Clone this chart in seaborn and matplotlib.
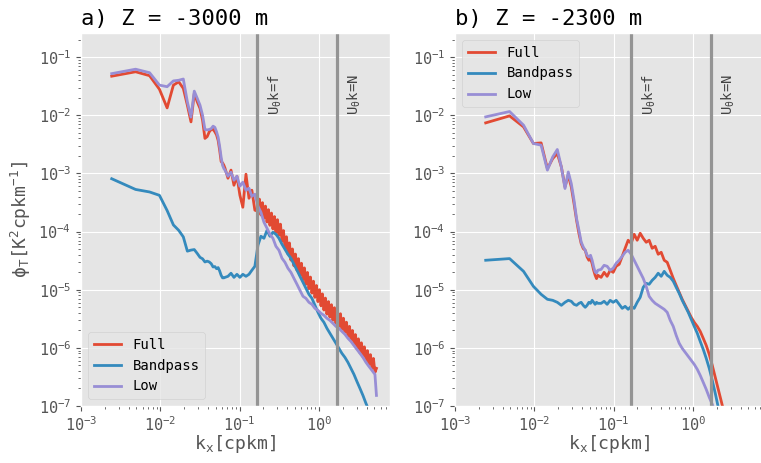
import pandas as pd
import seaborn as sns
import matplotlib.pyplot as plt

plt.style.use('ggplot')
plt.rcParams['font.family'] = 'DejaVu Sans Mono'
plt.rcParams['mathtext.default'] = 'regular'

# wavenumbers [cpkm]
k_low = [0.00244, 0.00488, 0.00732, 0.00976, 0.0122, 0.01464, 0.01708, 0.01952, 0.02196,
         0.0244, 0.02684, 0.02928, 0.03172, 0.03416, 0.0366, 0.03904, 0.04148, 0.04392,
         0.04636, 0.0488, 0.05124, 0.05368, 0.05612, 0.05856, 0.061, 0.06344]
k_hi_a = [0.0655, 0.0714, 0.078, 0.085, 0.0927, 0.101, 0.110, 0.1205, 0.1315, 0.143, 0.156,
          0.1706, 0.186, 0.203, 0.222, 0.2416, 0.2636, 0.2877, 0.314, 0.343, 0.374, 0.4075,
          0.4446, 0.485, 0.530, 0.578, 0.631, 0.687, 0.750, 0.818, 0.893, 0.975, 1.064, 1.159,
          1.265, 1.380, 1.506, 1.643, 1.792, 1.955, 2.133, 2.328, 2.540, 2.772, 3.02, 3.30,
          3.60, 3.93, 4.28, 4.68, 5.10, 5.33]
# the noisy Full spectrum at -3000 m is sampled more finely
k_full_hi_a = [0.0655, 0.0714, 0.078, 0.085, 0.0927, 0.101, 0.110, 0.1205, 0.1315, 0.143, 0.156,
               0.1706, 0.1781, 0.186, 0.1944, 0.203, 0.2122, 0.222, 0.2314, 0.2416, 0.2526,
               0.2636, 0.2755, 0.2877, 0.3005, 0.314, 0.3279, 0.343, 0.3577, 0.374, 0.3904,
               0.4075, 0.4259, 0.4446, 0.4647, 0.485, 0.5069, 0.530, 0.5531, 0.578, 0.6035,
               0.631, 0.6583, 0.687, 0.7182, 0.750, 0.7836, 0.818, 0.8549, 0.893, 0.9327,
               0.975, 1.0176, 1.064, 1.110, 1.159, 1.211, 1.265, 1.322, 1.380, 1.442,
               1.506, 1.573, 1.643, 1.717, 1.792, 1.873, 1.955, 2.043, 2.133, 2.229,
               2.328, 2.432, 2.540, 2.653, 2.772, 2.894, 3.02, 3.158, 3.30, 3.445,
               3.60, 3.758, 3.93, 4.102, 4.28, 4.474, 4.68, 4.882, 5.10, 5.33]
k_hi_b = [0.0697, 0.0760, 0.0830, 0.0906, 0.0989, 0.1079, 0.1178, 0.1286, 0.140, 0.1528,
          0.1668, 0.182, 0.1986, 0.2168, 0.2366, 0.2582, 0.2812, 0.3069, 0.335, 0.3656, 0.399,
          0.4355, 0.4753, 0.5188, 0.5662, 0.6166, 0.673, 0.7345, 0.8017, 0.875, 0.955, 1.042,
          1.138, 1.240, 1.353, 1.476, 1.611, 1.758, 1.919, 2.094, 2.286, 2.49]

# a) Z = -3000 m
full_a = [0.047, 0.056, 0.048, 0.028, 0.0134, 0.033, 0.0376, 0.029, 0.0149, 0.0077, 0.0237,
          0.017, 0.0131, 0.0082, 0.0040, 0.0043, 0.0052, 0.0057, 0.0057, 0.0052, 0.0046,
          0.0037, 0.0025, 0.0016, 0.00152, 0.00138,
          1.23e-3, 8.27e-4, 1.14e-3, 6.26e-4, 8.95e-4, 4.21e-4, 2.62e-4, 9.69e-4, 3.74e-4,
          5.14e-4, 2.33e-4,
          2.24e-4, 3.61e-4, 1.93e-4, 3.14e-4, 1.69e-4, 2.74e-4, 1.46e-4, 2.38e-4, 1.28e-4,
          2.08e-4, 1.11e-4, 1.81e-4, 9.73e-5, 1.60e-4, 8.63e-5, 1.34e-4, 6.81e-5, 1.04e-4,
          5.28e-5, 8.14e-5, 4.13e-5, 6.37e-5, 3.23e-5, 5.02e-5, 2.58e-5, 4.10e-5, 2.16e-5,
          3.42e-5, 1.79e-5, 2.85e-5, 1.49e-5, 2.37e-5, 1.24e-5, 1.98e-5, 1.04e-5, 1.65e-5,
          8.74e-6, 1.40e-5, 7.40e-6, 1.18e-5, 6.24e-6, 1.00e-5, 5.28e-6, 8.47e-6, 4.47e-6,
          7.17e-6, 3.80e-6, 6.24e-6, 3.38e-6, 5.52e-6, 2.99e-6, 4.90e-6, 2.65e-6, 4.35e-6,
          2.35e-6, 3.86e-6, 2.09e-6, 3.23e-6, 1.86e-6, 2.76e-6, 1.58e-6, 2.34e-6, 1.35e-6,
          1.99e-6, 1.14e-6, 1.69e-6, 9.69e-7, 1.43e-6, 8.20e-7, 1.22e-6, 7.03e-7, 1.04e-6,
          6.02e-7, 8.95e-7, 5.14e-7, 7.64e-7, 4.40e-7, 6.57e-7, 3.79e-7, 4.44e-7]
band_a = [8.1e-4, 5.3e-4, 4.8e-4, 4.2e-4, 2.3e-4, 1.3e-4, 1.05e-4, 8.1e-5, 4.6e-5, 4.8e-5,
          4.9e-5, 4.2e-5, 3.6e-5, 3.4e-5, 3.0e-5, 3.1e-5, 3.0e-5, 2.8e-5, 2.46e-5, 2.5e-5,
          2.3e-5, 2.4e-5, 2.1e-5, 1.77e-5, 1.6e-5, 1.6e-5,
          1.63e-5, 1.70e-5, 1.92e-5, 1.63e-5, 1.84e-5, 1.63e-5, 1.84e-5, 1.70e-5, 1.84e-5,
          2.16e-5, 2.53e-5, 5.81e-5, 8.30e-5, 7.67e-5, 1.05e-4, 8.30e-5, 9.73e-5, 8.98e-5,
          7.67e-5, 6.04e-5, 4.96e-5, 4.07e-5, 3.47e-5, 2.74e-5, 2.16e-5, 1.70e-5, 1.34e-5,
          1.06e-5, 8.33e-6, 7.11e-6, 5.39e-6, 4.08e-6, 3.22e-6, 2.75e-6, 2.17e-6, 1.78e-6,
          1.46e-6, 1.20e-6, 9.80e-7, 8.04e-7, 6.86e-7, 5.63e-7, 4.44e-7, 3.50e-7, 2.65e-7,
          2.01e-7, 1.52e-7, 1.11e-7, 8.4e-8, 6.0e-8, 4.5e-8, 4.0e-8]
low_a = [0.052, 0.062, 0.054, 0.033, 0.031, 0.039, 0.040, 0.042, 0.017, 0.0093, 0.026,
         0.0195, 0.0149, 0.010, 0.0057, 0.0056, 0.0057, 0.0059, 0.0065, 0.0062, 0.0052,
         0.0042, 0.0029, 0.0019, 0.00138, 0.00121,
         1.14e-3, 8.95e-4, 1.05e-3, 7.64e-4, 8.95e-4, 6.02e-4, 7.06e-4, 5.14e-4, 5.56e-4,
         4.05e-4, 4.39e-4, 2.73e-4, 2.15e-4, 1.45e-4, 1.14e-4, 8.98e-5, 7.67e-5, 5.58e-5,
         4.77e-5, 3.47e-5, 2.96e-5, 2.34e-5, 1.99e-5, 1.57e-5, 1.24e-5, 9.76e-6, 7.70e-6,
         7.11e-6, 6.07e-6, 5.61e-6, 4.78e-6, 4.42e-6, 3.93e-6, 3.63e-6, 3.22e-6, 2.97e-6,
         2.64e-6, 2.34e-6, 2.17e-6, 1.92e-6, 1.71e-6, 1.46e-6, 1.29e-6, 1.10e-6, 9.42e-7,
         8.04e-7, 6.86e-7, 5.63e-7, 4.80e-7, 4.10e-7, 3.50e-7, 1.52e-7]

# b) Z = -2300 m
full_b = [7.40e-3, 9.76e-3, 6.32e-3, 3.27e-3, 3.35e-3, 1.21e-3, 1.80e-3, 2.20e-3, 1.29e-3,
          5.86e-4, 9.31e-4, 5.86e-4, 3.03e-4, 1.56e-4, 9.24e-5, 6.22e-5, 5.10e-5, 4.77e-5,
          3.65e-5, 3.21e-5, 3.43e-5, 2.81e-5, 2.16e-5, 1.77e-5, 1.55e-5, 1.77e-5,
          1.63e-5, 1.99e-5, 1.70e-5, 2.16e-5, 1.99e-5, 2.53e-5, 2.74e-5, 3.76e-5, 5.16e-5,
          7.09e-5, 6.29e-5, 8.98e-5, 7.09e-5, 9.35e-5, 7.67e-5, 6.54e-5, 7.09e-5, 5.16e-5,
          5.58e-5, 4.07e-5, 4.40e-5, 3.21e-5, 2.96e-5, 2.16e-5, 1.57e-5, 1.19e-5, 9.02e-6,
          6.84e-6, 5.39e-6, 4.25e-6, 3.35e-6, 2.75e-6, 2.34e-6, 1.92e-6, 1.46e-6, 1.10e-6,
          7.73e-7, 5.00e-7, 3.11e-7, 1.93e-7, 1.20e-7, 7.46e-8]
band_b = [3.21e-5, 3.43e-5, 2.07e-5, 1.14e-5, 8.33e-6, 6.84e-6, 6.57e-6, 6.07e-6, 5.39e-6,
          6.07e-6, 6.57e-6, 6.32e-6, 5.61e-6, 5.39e-6, 5.83e-6, 6.07e-6, 5.39e-6, 4.98e-6,
          5.39e-6, 6.07e-6, 5.83e-6, 6.57e-6, 6.07e-6, 5.61e-6, 6.07e-6, 5.83e-6,
          5.83e-6, 6.32e-6, 5.61e-6, 6.57e-6, 6.07e-6, 6.57e-6, 5.61e-6, 4.78e-6, 5.18e-6,
          4.60e-6, 5.18e-6, 4.78e-6, 6.07e-6, 7.40e-6, 1.10e-5, 1.29e-5, 1.24e-5, 1.45e-5,
          1.63e-5, 1.92e-5, 1.70e-5, 2.07e-5, 1.77e-5, 1.63e-5, 1.40e-5, 1.10e-5, 8.67e-6,
          6.57e-6, 5.18e-6, 4.08e-6, 3.09e-6, 2.34e-6, 1.78e-6, 1.29e-6, 9.42e-7, 6.60e-7,
          4.44e-7, 2.76e-7, 1.65e-7, 9.46e-8, 5.65e-8, 3.4e-8]
low_b = [9.39e-3, 1.16e-2, 6.76e-3, 3.27e-3, 3.06e-3, 1.14e-3, 1.92e-3, 2.58e-3, 1.29e-3,
         5.50e-4, 1.06e-3, 6.70e-4, 3.46e-4, 1.67e-4, 1.05e-4, 6.62e-5, 5.43e-5, 4.77e-5,
         3.91e-5, 3.65e-5, 3.91e-5, 3.21e-5, 2.46e-5, 2.02e-5, 1.94e-5, 2.16e-5,
         2.24e-5, 2.63e-5, 2.53e-5, 2.16e-5, 2.34e-5, 2.85e-5, 3.21e-5, 3.76e-5, 4.40e-5,
         4.77e-5, 4.07e-5, 3.21e-5, 2.53e-5, 1.99e-5, 1.57e-5, 1.14e-5, 7.70e-6, 6.57e-6,
         5.83e-6, 5.39e-6, 4.98e-6, 4.60e-6, 4.08e-6, 2.97e-6, 2.34e-6, 1.64e-6, 1.20e-6,
         9.80e-7, 8.37e-7, 7.14e-7, 6.09e-7, 5.20e-7, 4.27e-7, 3.36e-7, 2.55e-7, 1.93e-7,
         1.41e-7, 1.07e-7, 7.76e-8, 5.65e-8, 4.1e-8, 3.1e-8]

k_f = 0.168   # U0 k = f
k_n = 1.69    # U0 k = N

titles = ['a) Z = -3000 m', 'b) Z = -2300 m']
series = ['Full', 'Bandpass', 'Low']
colors = ['#E24A33', '#348ABD', '#988ED5']
xticks = [1e-3, 1e-2, 1e-1, 1e0]
yticks = [1e-7, 1e-6, 1e-5, 1e-4, 1e-3, 1e-2, 1e-1]

panels = [
    ([k_low + k_full_hi_a, k_low + k_hi_a, k_low + k_hi_a], [full_a, band_a, low_a], 'lower left'),
    ([k_low + k_hi_b] * 3, [full_b, band_b, low_b], 'upper left'),
]

fig = plt.figure(figsize=(7.61, 4.63), dpi=100)
ax1 = fig.add_axes([81 / 761, 57 / 463, 309 / 761, 373 / 463])
ax2 = fig.add_axes([455 / 761, 57 / 463, 309 / 761, 373 / 463])

for ax, title, (ks, vals, loc) in zip([ax1, ax2], titles, panels):
    for name, k, v, c in zip(series, ks, vals, colors):
        df = pd.DataFrame({'k': k, 'phi': v})
        sns.lineplot(data=df, x='k', y='phi', ax=ax, color=c, lw=2, label=name,
                     estimator=None, sort=False)
    ax.set_xscale('log')
    ax.set_yscale('log')
    ax.set_xticks(xticks)
    ax.set_yticks(yticks)
    ax.set_xlim(1e-3, 7.9)
    ax.set_ylim(1e-7, 0.26)
    ax.axvline(k_f, color='#949494', lw=2.3)
    ax.axvline(k_n, color='#949494', lw=2.3)
    ax.text(k_f * 1.3, 1e-2, r'U$_\theta$k=f', rotation=90, ha='left', va='bottom',
            fontsize=10, color='#444444')
    ax.text(k_n * 1.3, 1e-2, r'U$_\theta$k=N', rotation=90, ha='left', va='bottom',
            fontsize=10, color='#444444')
    ax.set_title(title, loc='left', fontsize=16, color='black')
    ax.set_xlabel(r'k$_x$[cpkm]', fontsize=13, labelpad=-1)
    ax.set_ylabel('')
    ax.tick_params(labelsize=11)
    ax.legend(loc=loc, fontsize=10)

ax1.set_ylabel(r'$\phi_T$[K$^2$cpkm$^{-1}$]', fontsize=13)

plt.savefig('out.png', dpi=100)
